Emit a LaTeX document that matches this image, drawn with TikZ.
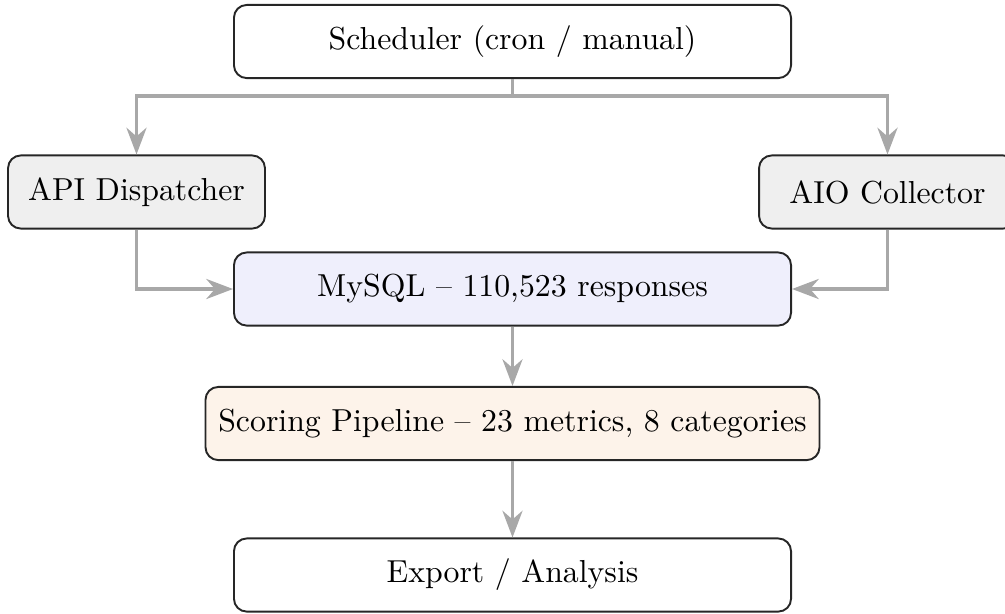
\documentclass[tikz,border=0pt]{standalone}
\usetikzlibrary{arrows.meta}
\definecolor{linegray}{RGB}{168,168,168}
\definecolor{boxgray}{RGB}{239,239,239}
\definecolor{boxblue}{RGB}{239,239,252}
\definecolor{boxorange}{RGB}{253,243,234}
\tikzset{
  box/.style={draw=black!85, line width=0.6pt, rounded corners=4pt, inner sep=0pt,
    minimum height=23pt, align=center, font=\normalsize},
  arr/.style={draw=linegray, line width=1.2pt, -{Stealth}},
}
\begin{document}
\begin{tikzpicture}[x=0.3145pt, y=-0.3145pt]
\useasboundingbox (0,0) rectangle (1005,613);
\clip (0,0) rectangle (1005,613);
\node[box, fill=white, minimum width=175.2pt] (sched) at (512.5,41.5) {Scheduler (cron / manual)};
\node[box, fill=boxgray, minimum width=80.8pt] (api) at (136.5,192) {API Dispatcher};
\node[box, fill=boxgray, minimum width=80.8pt] (aio) at (887.5,192) {AIO Collector};
\node[box, fill=boxblue, minimum width=175.2pt] (mysql) at (512.5,289) {MySQL -- 110,523 responses};
\node[box, fill=boxorange, minimum width=193.1pt] (score) at (512.5,423.5) {Scoring Pipeline -- 23 metrics, 8 categories};
\node[box, fill=white, minimum width=175.2pt] (export) at (512.5,575) {Export / Analysis};
\coordinate (split) at (512.5,96);
\draw[arr] (sched.south) -- (split) -| (api.north);
\draw[arr] (split) -| (aio.north);
\draw[arr] (api.south) |- (mysql.west);
\draw[arr] (aio.south) |- (mysql.east);
\draw[arr] (mysql.south) -- (score.north);
\draw[arr] (score.south) -- (export.north);
\end{tikzpicture}
\end{document}
